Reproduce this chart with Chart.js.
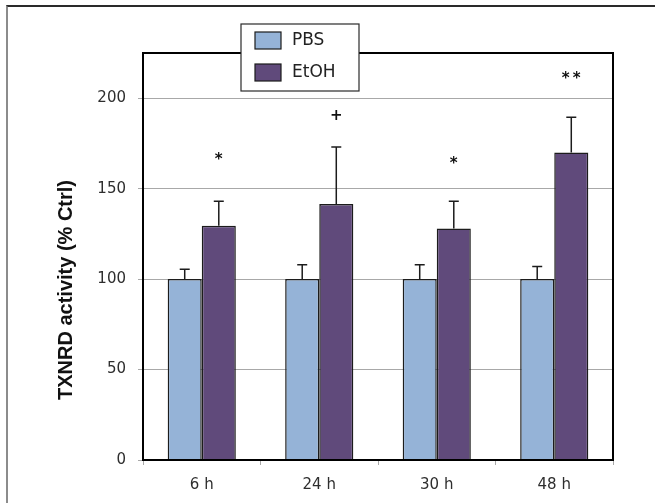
<!DOCTYPE html>
<html>
<head>
<meta charset="utf-8">
<script src="https://cdn.jsdelivr.net/npm/chart.js@4/dist/chart.umd.min.js"></script>
<style>
  html, body { margin: 0; padding: 0; background: #fff; }
  #wrap { position: relative; width: 655px; height: 503px; }
  #frame {
    position: absolute; left: 6px; top: 5px; right: 0; bottom: 0;
    border-top: 2px solid #2a2a2a; border-left: 2px solid #8c8c8c;
  }
  #txnrdChart { position: absolute; left: 0; top: 0; }
</style>
</head>
<body>
<div id="wrap">
  <div id="frame"></div>
  <canvas id="txnrdChart" width="655" height="503"></canvas>
</div>
<script>
// Data
const timePoints = ['6 h', '24 h', '30 h', '48 h'];
const pbsValues = [100, 100, 100, 100];
const pbsErrors = [5.5, 8, 8, 7];
const etohValues = [129.5, 141.5, 128, 170];
const etohErrors = [13.5, 31.5, 15, 19.5];
// significance marks above the EtOH bars, and the level (in % Ctrl) they sit at
const sigMarks = ['*', '+', '*', '**'];
const sigLevels = [168, 190, 166, 213];
const yTicks = [0, 50, 100, 150, 200];
const yTitle = 'TXNRD activity (% Ctrl)';

// Colors
const pbsColor = '#95b3d7',
  etohColor = '#604a7b',
  outlineColor = '#1c1c1c',
  gridColor = '#a8a8a8',
  labelColor = '#2e2e2e';

const tickFont = { family: '"DejaVu Sans", Verdana, sans-serif', size: 15 };

// Error bars, frame, legend, marks and axis title
const extrasPlugin = {
  id: 'extras',
  afterDatasetsDraw(chart) {
    const ctx = chart.ctx;
    const y = chart.scales.y;
    const area = chart.chartArea;
    const errorSets = [pbsErrors, etohErrors];

    ctx.save();
    // error bars (upper only)
    ctx.strokeStyle = outlineColor;
    ctx.lineWidth = 1.5;
    chart.data.datasets.forEach(function (ds, di) {
      const meta = chart.getDatasetMeta(di);
      meta.data.forEach(function (bar, i) {
        const top = y.getPixelForValue(ds.data[i]);
        const cap = y.getPixelForValue(ds.data[i] + errorSets[di][i]);
        ctx.beginPath();
        ctx.moveTo(bar.x, top);
        ctx.lineTo(bar.x, cap);
        ctx.moveTo(bar.x - 5, cap);
        ctx.lineTo(bar.x + 5, cap);
        ctx.stroke();
      });
    });

    // plot frame
    ctx.strokeStyle = '#000';
    ctx.lineWidth = 2;
    ctx.strokeRect(area.left, area.top, area.right - area.left, area.bottom - area.top);

    // significance marks
    const etohMeta = chart.getDatasetMeta(1);
    ctx.fillStyle = '#111';
    ctx.font = 'bold 15px "DejaVu Sans", sans-serif';
    ctx.textAlign = 'center';
    ctx.textBaseline = 'middle';
    etohMeta.data.forEach(function (bar, i) {
      const py = y.getPixelForValue(sigLevels[i]);
      const mark = sigMarks[i];
      if (mark === '+') {
        ctx.fillText(mark, bar.x, py);
      } else {
        const n = mark.length;
        for (let k = 0; k < n; k++) {
          ctx.fillText('*', bar.x + (k - (n - 1) / 2) * 11, py + 4);
        }
      }
    });

    // legend box
    const lx = 241, ly = 24, lw = 118, lh = 67;
    ctx.fillStyle = '#fff';
    ctx.fillRect(lx, ly, lw, lh);
    ctx.strokeStyle = '#2a2a2a';
    ctx.lineWidth = 1.2;
    ctx.strokeRect(lx, ly, lw, lh);
    ctx.font = '17px "DejaVu Sans", Verdana, sans-serif';
    ctx.textAlign = 'left';
    chart.data.datasets.forEach(function (ds, di) {
      const sy = ly + 8 + di * 32;
      ctx.fillStyle = ds.backgroundColor;
      ctx.fillRect(lx + 14, sy, 26, 17);
      ctx.strokeStyle = outlineColor;
      ctx.strokeRect(lx + 14, sy, 26, 17);
      ctx.fillStyle = '#222';
      ctx.fillText(ds.label, lx + 51, sy + 9);
    });

    // y axis title
    ctx.translate(66, 290);
    ctx.rotate(-Math.PI / 2);
    ctx.fillStyle = '#111';
    ctx.font = 'bold 20px "Liberation Sans", Arial, sans-serif';
    ctx.textAlign = 'center';
    ctx.fillText(yTitle, 0, 0);
    ctx.restore();
  }
};

const txnrdChart = new Chart(document.getElementById('txnrdChart'), {
  type: 'bar',
  data: {
    labels: timePoints,
    datasets: [
      {
        label: 'PBS',
        data: pbsValues,
        backgroundColor: pbsColor,
        borderColor: outlineColor,
        borderWidth: 1.5,
        barPercentage: 1,
        categoryPercentage: 0.58
      },
      {
        label: 'EtOH',
        data: etohValues,
        backgroundColor: etohColor,
        borderColor: outlineColor,
        borderWidth: 1.5,
        barPercentage: 1,
        categoryPercentage: 0.58
      }
    ]
  },
  options: {
    responsive: false,
    animation: false,
    layout: {
      padding: { left: 0, right: 42, top: 53, bottom: 0 }
    },
    plugins: {
      legend: { display: false },
      tooltip: { enabled: false }
    },
    scales: {
      x: {
        offset: true,
        grid: {
          offset: true,
          drawOnChartArea: false,
          color: gridColor,
          tickLength: 5
        },
        border: { display: false },
        ticks: {
          color: labelColor,
          font: tickFont,
          padding: 11
        },
        afterFit: function (scale) {
          scale.height = 43;
        }
      },
      y: {
        min: 0,
        max: 225,
        afterBuildTicks: function (scale) {
          scale.ticks = yTicks.map(function (v) { return { value: v }; });
        },
        grid: {
          color: gridColor,
          tickLength: 5
        },
        border: { display: false },
        ticks: {
          color: labelColor,
          font: tickFont,
          padding: 12
        },
        afterFit: function (scale) {
          scale.width = 143;
        }
      }
    }
  },
  plugins: [extrasPlugin]
});
</script>
</body>
</html>
